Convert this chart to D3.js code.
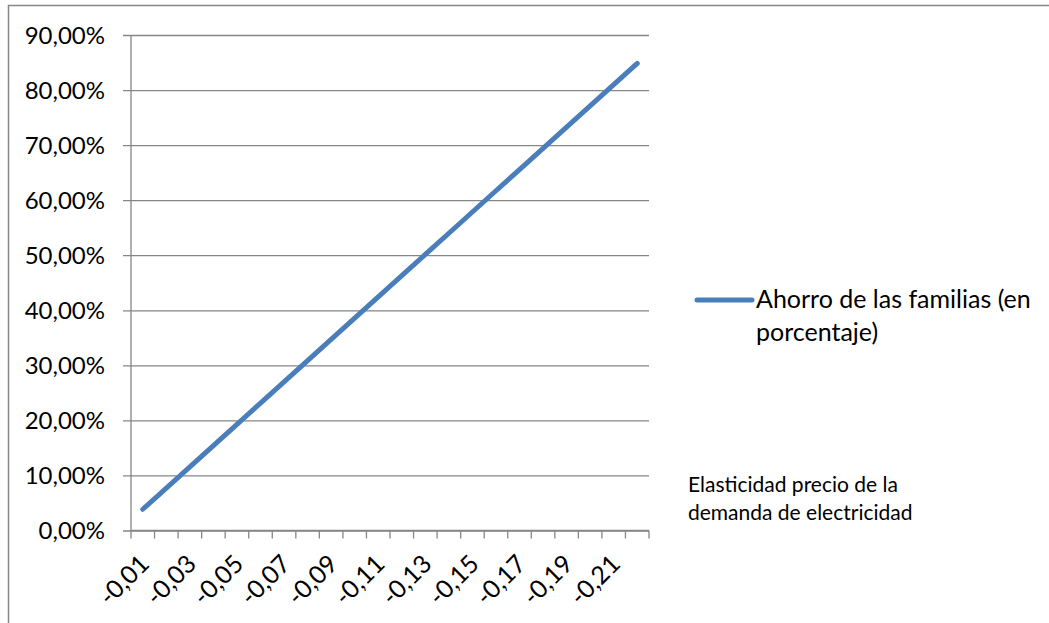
<!DOCTYPE html>
<html>
<head>
<meta charset="utf-8">
<script src="https://cdn.jsdelivr.net/npm/d3@7"></script>
<style>
  html, body { margin: 0; padding: 0; background: #fff; }
  svg { display: block; font-family: Lato, "Open Sans", sans-serif; }
</style>
</head>
<body>
<svg id="chart" width="1049" height="623"></svg>
<script>
// Price elasticity of electricity demand (categories) and household savings (%)
const categories = ["-0,01","-0,02","-0,03","-0,04","-0,05","-0,06","-0,07","-0,08","-0,09","-0,10","-0,11",
                    "-0,12","-0,13","-0,14","-0,15","-0,16","-0,17","-0,18","-0,19","-0,20","-0,21","-0,22"];
const savings = [3.86, 7.71, 11.57, 15.43, 19.28, 23.14, 27.00, 30.85, 34.71, 38.57, 42.42,
                 46.28, 50.14, 53.99, 57.85, 61.71, 65.56, 69.42, 73.28, 77.13, 80.99, 84.85];
const yTicks = [0, 10, 20, 30, 40, 50, 60, 70, 80, 90];
const seriesName = ["Ahorro de las familias (en", "porcentaje)"];
const axisTitle = ["Elasticidad precio de la", "demanda de electricidad"];

const svg = d3.select("#chart");
const gridColor = "#868686";
const lineColor = "#4A7EBB";

// outer chart frame
svg.append("rect")
  .attr("x", 8.5).attr("y", 5.5).attr("width", 1100).attr("height", 700)
  .attr("fill", "none").attr("stroke", gridColor).attr("stroke-width", 1.5);

const plot = { left: 131, right: 649, top: 35, bottom: 530.5 };

const x = d3.scaleBand().domain(categories).range([plot.left, plot.right]).paddingInner(0).paddingOuter(0);
const y = d3.scaleLinear().domain([0, 90]).range([plot.bottom, plot.top]);

const fmtPct = v => d3.format(".2f")(v).replace(".", ",") + "%";

// horizontal gridlines with outward ticks
const yAxis = d3.axisLeft(y).tickValues(yTicks).tickFormat(fmtPct)
  .tickSizeInner(-(plot.right - plot.left)).tickSizeOuter(0).tickPadding(0);
const gy = svg.append("g").attr("transform", `translate(${plot.left},0)`).call(yAxis);
gy.select(".domain").remove();
gy.selectAll(".tick line")
  .attr("x1", -8).attr("x2", plot.right - plot.left)
  .attr("stroke", gridColor).attr("stroke-width", 1.3);
gy.selectAll(".tick text")
  .attr("x", -26).attr("dy", "0.35em")
  .attr("fill", "#000").style("font-size", "24px").style("font-family", "Lato, sans-serif");

// vertical axis line
svg.append("line")
  .attr("x1", plot.left).attr("x2", plot.left)
  .attr("y1", plot.top).attr("y2", plot.bottom)
  .attr("stroke", gridColor).attr("stroke-width", 1.3);

// category axis: boundary ticks
const bounds = categories.map(c => x(c)).concat([plot.right]);
svg.append("g").selectAll("line").data(bounds).join("line")
  .attr("x1", d => d).attr("x2", d => d)
  .attr("y1", plot.bottom).attr("y2", plot.bottom + 8)
  .attr("stroke", gridColor).attr("stroke-width", 1.3);
svg.append("line")
  .attr("x1", plot.left).attr("x2", plot.right)
  .attr("y1", plot.bottom).attr("y2", plot.bottom)
  .attr("stroke", gridColor).attr("stroke-width", 1.3);

// rotated category labels (every other one)
svg.append("g").selectAll("text")
  .data(categories.filter((c, i) => i % 2 === 0)).join("text")
  .attr("transform", d => `translate(${x(d) + x.bandwidth() / 2 + 8},${plot.bottom + 35}) rotate(-45)`)
  .attr("text-anchor", "end")
  .style("font-size", "25px")
  .attr("fill", "#000")
  .text(d => d);

// data line
const line = d3.line()
  .x((d, i) => x(categories[i]) + x.bandwidth() / 2)
  .y(d => y(d));
svg.append("path")
  .datum(savings)
  .attr("d", line)
  .attr("fill", "none")
  .attr("stroke", lineColor)
  .attr("stroke-width", 5)
  .attr("stroke-linecap", "round")
  .attr("stroke-linejoin", "round");

// legend
const lg = svg.append("g");
lg.append("line")
  .attr("x1", 697).attr("x2", 752).attr("y1", 300).attr("y2", 300)
  .attr("stroke", lineColor).attr("stroke-width", 5).attr("stroke-linecap", "round");
lg.selectAll("text").data(seriesName).join("text")
  .attr("x", 756).attr("y", (d, i) => 308 + i * 33)
  .style("font-size", "25px").attr("fill", "#000")
  .text(d => d);

// category axis title
svg.append("g").selectAll("text").data(axisTitle).join("text")
  .attr("x", 688).attr("y", (d, i) => 492 + i * 28)
  .style("font-size", "21px").attr("fill", "#000")
  .text(d => d);
</script>
</body>
</html>
